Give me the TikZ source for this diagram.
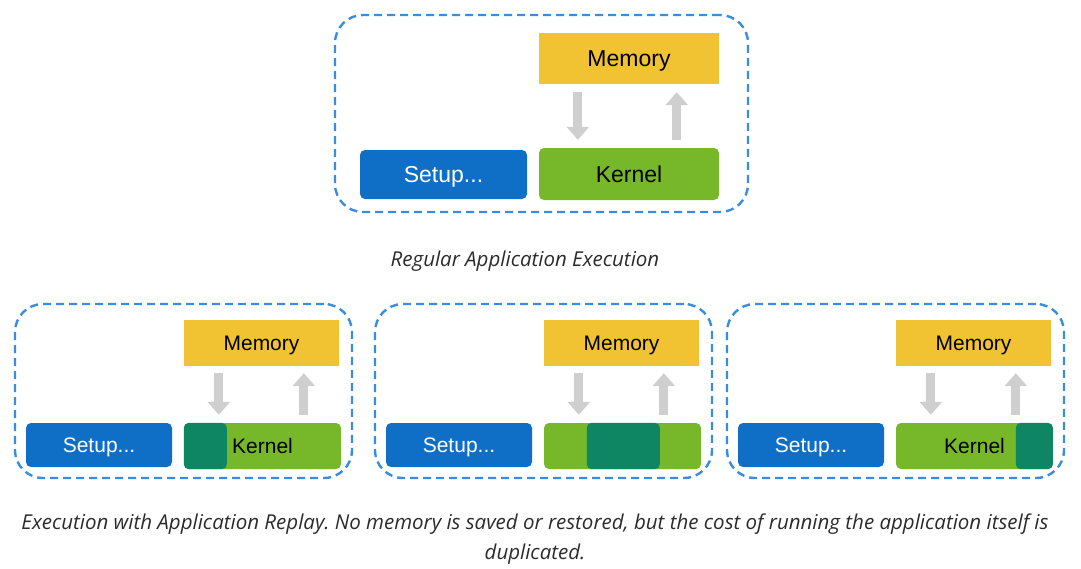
\documentclass[tikz,border=0pt]{standalone}
\usepackage{fontspec}
\setmainfont{Liberation Sans}
\newfontfamily\capfont{Open Sans}
\usetikzlibrary{arrows.meta}
\frenchspacing

\definecolor{memyellow}{HTML}{F1C232}
\definecolor{setupblue}{HTML}{0F6FC6}
\definecolor{kerngreen}{HTML}{76B82A}
\definecolor{hotteal}{HTML}{0E8563}
\definecolor{flowgray}{HTML}{CFCFCF}
\definecolor{framblue}{HTML}{3A8DDE}
\definecolor{captext}{HTML}{2B2B2B}

\tikzset{
  frame/.style={draw=framblue, line width=2.4pt, dash pattern=on 8pt off 5pt,
    rounded corners=28pt, inner sep=0pt},
  memory/.style={fill=memyellow, inner sep=0pt, text depth=0pt, text=black},
  setup/.style={fill=setupblue, rounded corners=5pt, inner sep=0pt, text depth=0pt, text=white},
  kernel/.style={fill=kerngreen, rounded corners=5pt, inner sep=0pt, text depth=0pt, text=black},
  flow/.style={draw=flowgray, line width=9pt,
    -{Triangle[width=22pt,length=13pt]}},
  caption/.style={font=\capfont\itshape\fontsize{20.5}{30}\selectfont, text=captext}
}

\begin{document}
\begin{tikzpicture}[x=1pt, y=-1pt]
    \useasboundingbox (0,0) rectangle (1081,568);
    % regular execution
    \node[frame, minimum width=413, minimum height=197] (f0) at (541.5,113.5) {};
    \node[memory, minimum width=180, minimum height=51, font=\fontsize{23}{27}\selectfont]
      (m0) at (629,58.5) {Memory};
    \node[setup, minimum width=167, minimum height=49, font=\fontsize{23}{27}\selectfont]
      (s0) at (443.5,174.5) {Setup...};
    \node[kernel, minimum width=180, minimum height=52, font=\fontsize{23}{27}\selectfont]
      (k0) at (629,174) {Kernel};
    \draw[flow] ([xshift=39pt,yshift=-8pt]m0.south west) -- ([xshift=39pt,yshift=8pt]k0.north west);
    \draw[flow] ([xshift=138pt,yshift=8pt]k0.north west) -- ([xshift=138pt,yshift=-8pt]m0.south west);
    \node[caption] (c0) at (525,261) {Regular Application Execution};
    % replay, one panel per pass
    \foreach \i/\ox/\hl/\hr/\lbl in {1/15/0/43/Kernel, 2/375/43/116/{}, 3/727/120/157/Kernel}
    {
      \node[frame, minimum width=337, minimum height=174] (f\i) at (\ox+168.5,391) {};
      \node[memory, minimum width=155, minimum height=46, font=\fontsize{21}{25}\selectfont]
        (m\i) at (\ox+246.5,343) {Memory};
      \node[setup, minimum width=146, minimum height=44, font=\fontsize{21}{25}\selectfont]
        (s\i) at (\ox+84,445) {Setup...};
      \node[kernel, minimum width=157, minimum height=46, font=\fontsize{21}{25}\selectfont]
        (k\i) at (\ox+247.5,446) {\lbl};
      \fill[hotteal, rounded corners=5pt] ([xshift=\hl pt]k\i.south west) rectangle ([xshift=\hr pt]k\i.north west);
      \draw[flow] ([xshift=35pt,yshift=-7pt]m\i.south west) -- ([xshift=35pt,yshift=8pt]k\i.north west);
      \draw[flow] ([xshift=120pt,yshift=8pt]k\i.north west) -- ([xshift=120pt,yshift=-7pt]m\i.south west);
    }
    \node[caption, align=center] (c1) at (535,539)
      {Execution with Application Replay. No memory is saved or restored, but the cost of running the application itself is\\duplicated.};
\end{tikzpicture}
\end{document}
